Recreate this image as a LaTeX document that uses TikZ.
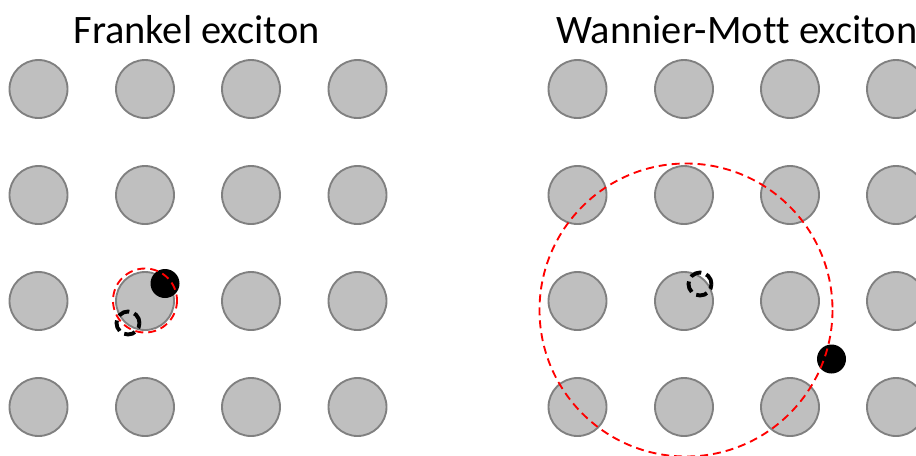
\documentclass[tikz,border=0pt]{standalone}
\usepackage{fontspec}
\setmainfont[Ligatures={NoCommon}]{Carlito}
\begin{document}
\begin{tikzpicture}[x=0.75pt,y=-0.75pt,
  atom/.style={circle,draw=black!50,fill=black!25,line width=1.4pt,minimum size=58*0.75pt,inner sep=0pt},
  orbit/.style={draw=red,line width=1.4pt,dash pattern=on 6pt off 3.75pt},
  electron/.style={circle,fill=black,draw=none,minimum size=29*0.75pt,inner sep=0pt},
  hole/.style={circle,draw=black,line width=2.9pt,dash pattern=on 8.5pt off 4pt,minimum size=23*0.75pt,inner sep=0pt},
  ttl/.style={font=\fontsize{30.3pt}{34pt}\selectfont,inner sep=0pt}]
\clip (0,0) rectangle (916,455);
\useasboundingbox (0,0) rectangle (916,455);
\node[ttl,anchor=base] (t1) at (196.5,43) {Frankel exciton};
\node[ttl,anchor=base west] (t2) at (556,43) {Wannier-Mot\kern0pt t exciton};
\foreach \i/\x in {1/38.5,2/145,3/251,4/357.5}{
  \foreach \j/\y in {1/89,2/195,3/301,4/407}{
    \node[atom] (L\i\j) at (\x,\y) {};
  }
}
\foreach \i/\x in {1/577.5,2/684,3/790,4/896}{
  \foreach \j/\y in {1/89,2/195,3/301,4/407}{
    \node[atom] (R\i\j) at (\x,\y) {};
  }
}
% Frenkel
\node[hole] (hL) at (128,323) {};
\node[electron] (eL) at (165,283.5) {};
\draw[orbit] (145,300.5) circle (32);
% Wannier-Mott
\node[hole] (hR) at (700,284) {};
\node[electron] (eR) at (831.5,359) {};
\draw[orbit] (686,310) circle (146.5);
\end{tikzpicture}
\end{document}
